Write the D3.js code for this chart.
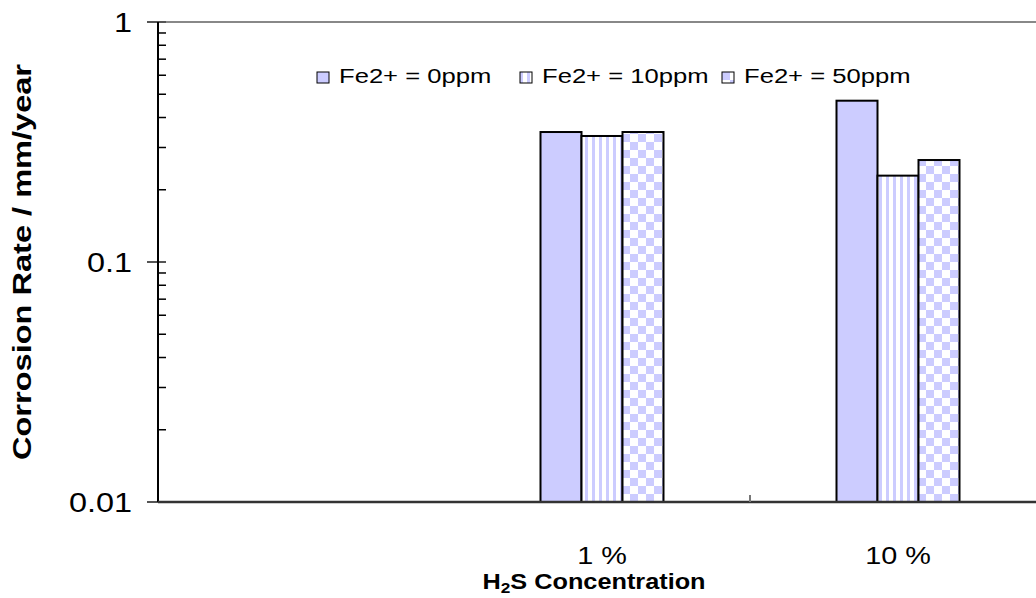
<!DOCTYPE html>
<html>
<head>
<meta charset="utf-8">
<script src="https://cdn.jsdelivr.net/npm/d3@7"></script>
<style>
  body { margin: 0; background: #fff; }
  svg { display: block; font-family: Arial, "Liberation Sans", sans-serif; }
</style>
</head>
<body>
<div id="chart"></div>
<script>
// data
const categories = ["", "1 %", "10 %"];
const seriesNames = ["Fe2+ = 0ppm", "Fe2+ = 10ppm", "Fe2+ = 50ppm"];
const fe0 = [null, 0.348, 0.47];
const fe10 = [null, 0.335, 0.229];
const fe50 = [null, 0.348, 0.266];
const yTicks = [0.01, 0.1, 1];
const yTickLabels = ["0.01", "0.1", "1"];

const seriesValues = [fe0, fe10, fe50];

let W = 1036, H = 598;
let margin = { top: 22, left: 158 },
    width = 888,
    height = 480;

// the original picture is a bit wider than tall, so text is stretched sideways
const sx = 1.2;

let svg = d3.select("#chart").append("svg")
  .attr("width", W)
  .attr("height", H);

// patterns
let defs = svg.append("defs");
let stripes = defs.append("pattern")
  .attr("id", "stripes")
  .attr("patternUnits", "userSpaceOnUse")
  .attr("width", 7).attr("height", 7);
stripes.append("rect").attr("width", 7).attr("height", 7).attr("fill", "#fff");
stripes.append("rect").attr("width", 3).attr("height", 7).attr("fill", "#ccccff");

let checks = defs.append("pattern")
  .attr("id", "checks")
  .attr("patternUnits", "userSpaceOnUse")
  .attr("width", 16).attr("height", 16);
checks.append("rect").attr("width", 16).attr("height", 16).attr("fill", "#fff");
checks.append("rect").attr("width", 8).attr("height", 8).attr("fill", "#ccccff");
checks.append("rect").attr("x", 8).attr("y", 8).attr("width", 8).attr("height", 8).attr("fill", "#ccccff");

const fills = ["#ccccff", "url(#stripes)", "url(#checks)"];

let g = svg.append("g").attr("transform", `translate(${margin.left},${margin.top})`);

// scales
let x = d3.scaleBand().domain(categories).range([0, width]);
let xs = d3.scaleBand().domain(d3.range(seriesNames.length)).range([0, 123]);
let y = d3.scaleLog().domain([0.01, 1]).range([height, 0]);

// top border
g.append("line")
  .attr("x1", 0).attr("x2", width)
  .attr("y1", 0).attr("y2", 0)
  .attr("stroke", "#888").attr("stroke-width", 2);

// bars
seriesValues.forEach((vals, si) => {
  g.selectAll(".bar" + si)
    .data(categories.map((c, i) => ({ c: c, v: vals[i] })).filter(d => d.v != null))
    .enter().append("rect")
    .attr("x", d => x(d.c) + (x.bandwidth() - 123) / 2 + xs(si))
    .attr("y", d => y(d.v))
    .attr("width", xs.bandwidth())
    .attr("height", d => height - y(d.v))
    .attr("fill", fills[si])
    .attr("stroke", "#000")
    .attr("stroke-width", 2);
});

// y axis: minor ticks inside
let minor = [];
for (let e = -2; e < 0; e++) {
  for (let k = 2; k <= 9; k++) minor.push(k * Math.pow(10, e));
}
g.selectAll(".minor").data(minor).enter().append("line")
  .attr("x1", 0).attr("x2", 8)
  .attr("y1", d => y(d)).attr("y2", d => y(d))
  .attr("stroke", "#000").attr("stroke-width", 1.5);

g.selectAll(".major").data(yTicks).enter().append("line")
  .attr("x1", -11).attr("x2", 8)
  .attr("y1", d => y(d)).attr("y2", d => y(d))
  .attr("stroke", "#555").attr("stroke-width", 2);

g.selectAll(".ylab").data(yTicks).enter().append("text")
  .attr("transform", d => `translate(-26,${y(d) + 10}) scale(${sx},1)`)
  .attr("text-anchor", "end")
  .attr("font-size", 27)
  .text((d, i) => yTickLabels[i]);

g.append("line")
  .attr("x1", 0).attr("x2", 0)
  .attr("y1", 0).attr("y2", height)
  .attr("stroke", "#000").attr("stroke-width", 2);

// x axis
g.append("line")
  .attr("x1", 0).attr("x2", W - margin.left)
  .attr("y1", height).attr("y2", height)
  .attr("stroke", "#333").attr("stroke-width", 2.5);

g.append("line")
  .attr("x1", x(categories[2])).attr("x2", x(categories[2]))
  .attr("y1", height - 7).attr("y2", height)
  .attr("stroke", "#777").attr("stroke-width", 2);

g.selectAll(".xlab").data(categories).enter().append("text")
  .attr("transform", d => `translate(${x(d) + x.bandwidth() / 2},${height + 62}) scale(${sx},1)`)
  .attr("text-anchor", "middle")
  .attr("font-size", 24)
  .text(d => d);

// axis titles
let xt = svg.append("text")
  .attr("transform", `translate(${margin.left + width / 2 - 8},589) scale(1.15,1)`)
  .attr("text-anchor", "middle")
  .attr("font-size", 22)
  .attr("font-weight", "bold");
xt.append("tspan").text("H");
xt.append("tspan").attr("font-size", 15).attr("dy", 4).text("2");
xt.append("tspan").attr("dy", -4).text("S Concentration");

svg.append("text")
  .attr("transform", `translate(31,${margin.top + height / 2}) rotate(-90)`)
  .attr("text-anchor", "middle")
  .attr("font-size", 26)
  .attr("font-weight", "bold")
  .attr("textLength", 396)
  .attr("lengthAdjust", "spacingAndGlyphs")
  .text("Corrosion Rate / mm/year");

// legend
const legendX = [317, 520, 722];
let leg = svg.selectAll(".leg").data(seriesNames).enter().append("g")
  .attr("transform", (d, i) => `translate(${legendX[i]},72)`);
leg.append("rect")
  .attr("width", 12).attr("height", 11)
  .attr("fill", (d, i) => fills[i])
  .attr("stroke", "#000").attr("stroke-width", 1);
leg.append("text")
  .attr("transform", `translate(22,11) scale(1.22,1)`)
  .attr("font-size", 21)
  .text(d => d);
</script>
</body>
</html>
